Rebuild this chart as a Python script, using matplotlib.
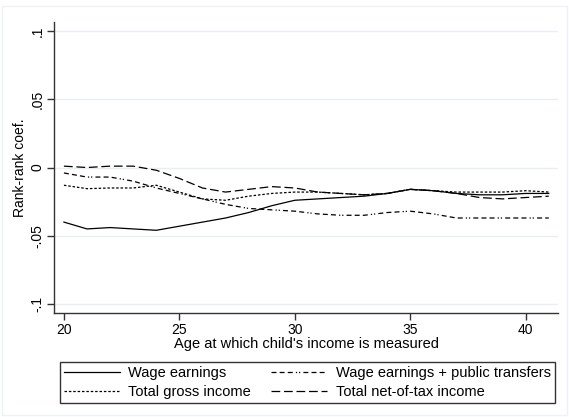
import matplotlib
matplotlib.use("Agg")
import matplotlib.pyplot as plt
from matplotlib.patches import Rectangle

plt.rcParams['font.family'] = ['Liberation Sans', 'DejaVu Sans']

# Data
ages = list(range(20, 42))
wage = [-0.040, -0.045, -0.044, -0.045, -0.046, -0.043, -0.040, -0.037, -0.033, -0.028,
        -0.024, -0.023, -0.022, -0.021, -0.019, -0.016, -0.017, -0.019, -0.020, -0.020,
        -0.019, -0.019]
wage_transfers = [-0.004, -0.007, -0.007, -0.010, -0.015, -0.019, -0.023, -0.027, -0.030, -0.031,
                  -0.032, -0.034, -0.035, -0.035, -0.033, -0.032, -0.034, -0.037, -0.037, -0.037,
                  -0.037, -0.037]
gross = [-0.013, -0.0155, -0.015, -0.015, -0.013, -0.018, -0.023, -0.024, -0.021, -0.019,
         -0.018, -0.018, -0.019, -0.020, -0.019, -0.016, -0.017, -0.018, -0.018, -0.018,
         -0.017, -0.018]
net_tax = [0.001, 0.000, 0.001, 0.001, -0.002, -0.008, -0.015, -0.018, -0.016, -0.014,
           -0.015, -0.018, -0.019, -0.020, -0.019, -0.016, -0.017, -0.019, -0.022, -0.023,
           -0.022, -0.021]

labels = ["Wage earnings", "Wage earnings + public transfers",
          "Total gross income", "Total net-of-tax income"]
xticks = [20, 25, 30, 35, 40]
yticks = [-0.1, -0.05, 0, 0.05, 0.1]
yticklabels = ["-.1", "-.05", "0", ".05", ".1"]

fig = plt.figure(figsize=(5.69, 4.17), dpi=100)
ax = fig.add_axes([0.0949, 0.2494, 0.8858, 0.6978])

lw = 0.9
l1, = ax.plot(ages, wage, color='black', lw=lw, ls='-')
l2, = ax.plot(ages, wage_transfers, color='black', lw=lw,
              ls=(0, (4, 2.5, 4, 2.5, 4, 2.5, 1, 1.5, 1, 2.5)))
l3, = ax.plot(ages, gross, color='black', lw=lw, ls=(0, (2, 1.5)))
l4, = ax.plot(ages, net_tax, color='black', lw=lw, ls=(0, (7, 3)))

ax.set_xlim(19.57, 41.4)
ax.set_ylim(-0.1066, 0.1066)
ax.set_xticks(xticks)
ax.set_yticks(yticks)
ax.set_yticklabels(yticklabels, rotation=90, va='center')
for y in yticks:
    ax.axhline(y, color='#eaeef3', lw=1, zorder=0)

for side in ['top', 'right']:
    ax.spines[side].set_visible(False)
for side in ['left', 'bottom']:
    ax.spines[side].set_color('#333333')
    ax.spines[side].set_linewidth(1)
ax.tick_params(direction='out', length=5, width=1, color='#333333',
               labelsize=10, pad=2)

ax.set_ylabel("Rank-rank coef.", fontsize=10, labelpad=2)
ax.set_xlabel("Age at which child's income is measured", fontsize=10.5, labelpad=0)

# legend fills row by row: (l1, l2) on top, (l3, l4) below
leg = fig.legend([l1, l3, l2, l4], [labels[0], labels[2], labels[1], labels[3]],
                 ncol=2, loc='upper left', bbox_to_anchor=(0.105, 0.132),
                 fontsize=10.5, frameon=True, fancybox=False, handlelength=3.8,
                 handletextpad=0.6, columnspacing=1.4, borderpad=0.3,
                 labelspacing=0.3, borderaxespad=0)
leg.get_frame().set_edgecolor('black')
leg.get_frame().set_linewidth(1)

# faint outer frame of the graph region
fig.patches.append(Rectangle((0.004, 0.004), 0.992, 0.982, transform=fig.transFigure,
                             fill=False, edgecolor='#eef2f7', lw=1))

fig.savefig("out.png", dpi=100)
